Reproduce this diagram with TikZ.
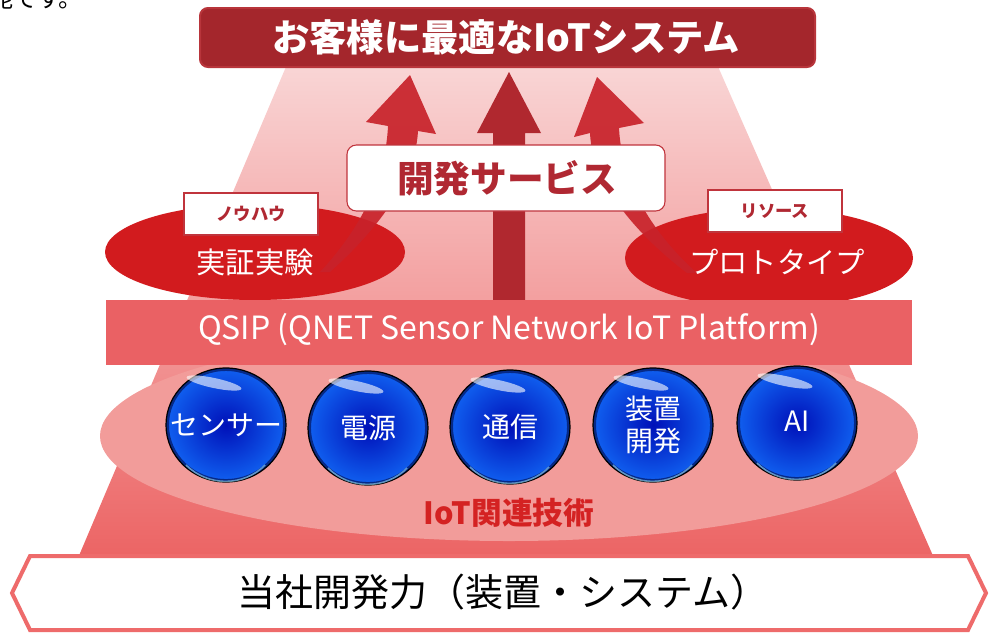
\documentclass[tikz,border=0pt]{standalone}
\usepackage{fontspec}
\setmainfont{Noto Sans CJK JP}
\usetikzlibrary{shapes.geometric}
\definecolor{trapTop}{HTML}{F9D6D6}
\definecolor{trapMid}{HTML}{F4B2B2}
\definecolor{trapBot}{HTML}{EC6464}
\definecolor{paleEll}{HTML}{F29C9A}
\definecolor{titleRed}{HTML}{A4262C}
\definecolor{titleEdge}{HTML}{B8353B}
\definecolor{ellRed}{HTML}{D21B1E}
\definecolor{arrowRed}{HTML}{C8222A}
\definecolor{arrowDark}{HTML}{B0282F}
\definecolor{labelRed}{HTML}{B02832}
\definecolor{boxEdge}{HTML}{C0343C}
\definecolor{barRed}{HTML}{EA6164}
\definecolor{iotRed}{HTML}{D42222}
\definecolor{bannerEdge}{HTML}{EE6B6B}
\definecolor{ballIn}{HTML}{0010B8}
\definecolor{ballOut}{HTML}{1060F0}
\tikzset{
  labelbox/.style={fill=white, draw=boxEdge, line width=1.5pt},
  labeltext/.style={text=labelRed, font=\bfseries\fontsize{13}{15}\selectfont, inner sep=0pt},
  elltext/.style={text=white, font=\fontsize{22}{26}\selectfont, inner sep=0pt},
  balltext/.style={text=white, font=\fontsize{21}{24}\selectfont, inner sep=0pt, align=center},
  redell/.style={fill=ellRed},
}
\newcommand{\myball}[2]{%
  \shade[inner color=ballIn, outer color=ballOut] (#1,#2) ellipse [x radius=60, y radius=57];
  \draw[line width=2.2pt, black!80!blue, opacity=0.55] (#1,#2) ellipse [x radius=58.5, y radius=55.5];
  \draw[line width=0.9pt, black] (#1,#2) ellipse [x radius=60, y radius=57];
  \fill[white, opacity=0.6, rotate around={-12:(#1-12,#2-42)}] (#1-12,#2-42) ellipse [x radius=28, y radius=5];
  \draw[line width=1.2pt, cyan!40!white, opacity=0.6] (#1-40,#2+40) arc[start angle=225, end angle=315, x radius=56, y radius=-56];
}
\begin{document}
\begin{tikzpicture}[x=0.75pt,y=-0.75pt]
\useasboundingbox (0,0) rectangle (992,633);
\clip (0,0) rectangle (992,633);
% partial text at top-left
\node[anchor=base west, inner sep=0pt, font=\fontsize{18}{20}\selectfont] (toptext) at (-11,7) {能です。};
% background trapezoid
\shade[top color=trapTop, middle color=trapMid, bottom color=trapBot]
  (288,62) -- (716,62) -- (934,558) -- (78,558) -- cycle;
% pale ellipse behind the balls
\fill[paleEll] (509,436) ellipse [x radius=409, y radius=105];
% title
\draw[fill=titleRed, draw=titleEdge, line width=1.5pt, rounded corners=6pt] (200,8) rectangle (815,67);
\node[text=white, font=\bfseries\fontsize{28}{32}\selectfont, inner sep=0pt] (title) at (506,37) {お客様に最適なIoTシステム};
% side ellipses
\fill[redell] (255,252) ellipse [x radius=150, y radius=48];
\fill[redell] (769,258) ellipse [x radius=144, y radius=50];
\node[elltext] (jissho) at (255,262) {実証実験};
\node[elltext] (proto) at (777,262) {プロトタイプ};
% curved arrows
\fill[arrowRed, opacity=0.92] (320,272) .. controls (350,240) and (385,190) .. (388,126)
  -- (366,122) -- (410,75) -- (436,134) -- (418,131)
  .. controls (415,190) and (360,245) .. (330,272) -- cycle;
\fill[arrowRed, opacity=0.92] (687,273) .. controls (650,245) and (592,190) .. (590,133)
  -- (574,137) -- (597,77) -- (644,123) -- (619,128)
  .. controls (622,190) and (660,240) .. (697,273) -- cycle;
% centre arrow
\fill[arrowDark] (493,300) -- (493,133) -- (477,133) -- (509,72) -- (541,133) -- (525,133) -- (525,300) -- cycle;
% label boxes
\draw[labelbox] (184,193) rectangle (318,235);
\node[labeltext] (knowhow) at (251,214) {ノウハウ};
\draw[labelbox] (708,190) rectangle (842,232);
\node[labeltext] (resource) at (775,211) {リソース};
% service box
\draw[fill=white, draw=boxEdge, line width=0.8pt, rounded corners=7pt] (347,145) rectangle (665,211);
\node[text=labelRed, font=\bfseries\fontsize{27.5}{30}\selectfont, inner sep=0pt] (service) at (507,178) {開発サービス};
% QSIP bar
\fill[barRed] (106,300) rectangle (912,365);
\node[text=white, font=\fontsize{24}{28}\selectfont, inner sep=0pt] (qsip) at (509,330) {QSIP (QNET Sensor Network IoT Platform)};
% balls
\myball{226}{425}
\myball{368}{428}
\myball{510}{427}
\myball{653}{425}
\myball{797}{423}
\node[balltext] (sensor) at (226,425) {センサー};
\node[balltext] (power) at (368,428) {電源};
\node[balltext] (comm) at (510,427) {通信};
\node[balltext] (device) at (653,425) {装置\\開発};
\node[balltext] (ai) at (797,421) {AI};
% IoT related tech
\node[text=iotRed, font=\bfseries\fontsize{23}{26}\selectfont, inner sep=0pt] (iottech) at (509,513) {IoT関連技術};
% banner
\draw[fill=white, draw=bannerEdge, line width=3pt, line join=miter]
  (30,556) -- (968,556) -- (986,593) -- (968,630) -- (30,630) -- (12,593) -- cycle;
\node[text=black, font=\fontsize{28.5}{32}\selectfont, inner sep=0pt] (banner) at (503,592) {当社開発力（装置・システム）};
\end{tikzpicture}
\end{document}
